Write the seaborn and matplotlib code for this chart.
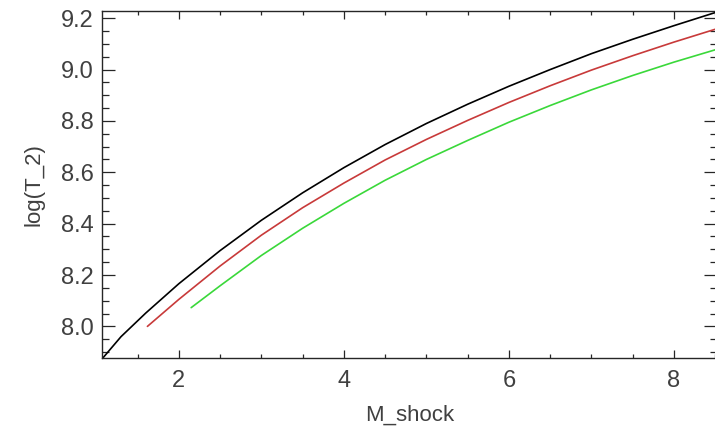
import matplotlib

matplotlib.use("Agg")
import matplotlib.pyplot as plt
import numpy as np
import pandas as pd
import seaborn as sns
from matplotlib.ticker import FormatStrFormatter, MultipleLocator

# values
mach_black = [1.08, 1.3, 1.6, 2.0, 2.5, 3.0, 3.5, 4.0, 4.5, 5.0, 5.5, 6.0, 6.5, 7.0, 7.5, 8.0, 8.5]
logt_black = [7.877, 7.96, 8.052, 8.166, 8.295, 8.413, 8.52, 8.618, 8.708, 8.79,
              8.865, 8.935, 9.0, 9.062, 9.118, 9.171, 9.222]

mach_red = [1.62, 2.0, 2.5, 3.0, 3.5, 4.0, 4.5, 5.0, 5.5, 6.0, 6.5, 7.0, 7.5, 8.0, 8.5]
logt_red = [8.0, 8.105, 8.235, 8.355, 8.462, 8.558, 8.648, 8.728, 8.802, 8.872,
            8.937, 8.998, 9.054, 9.107, 9.157]

mach_green = [2.15, 2.5, 3.0, 3.5, 4.0, 4.5, 5.0, 5.5, 6.0, 6.5, 7.0, 7.5, 8.0, 8.5]
logt_green = [8.073, 8.158, 8.276, 8.382, 8.479, 8.569, 8.65, 8.724, 8.795, 8.86,
              8.921, 8.977, 9.029, 9.077]

series = [
    (mach_black, logt_black, "#000000"),
    (mach_red, logt_red, "#c83a3a"),
    (mach_green, logt_green, "#3ad83a"),
]

sns.set_theme(style="ticks")
plt.rcParams["font.family"] = ["Liberation Sans", "DejaVu Sans"]
text_color = "#404040"
axis_color = "#262626"

fig = plt.figure(figsize=(7.15, 4.28), dpi=100)
ax = fig.add_axes([0.1427, 0.1636, 0.86, 0.8107])

for x, y, color in series:
    df = pd.DataFrame({"M_shock": x, "logT2": y})
    sns.lineplot(data=df, x="M_shock", y="logT2", color=color, linewidth=1.2,
                 sort=False, ax=ax)

ax.set_xlim(1.07, 8.52)
ax.set_ylim(7.877, 9.228)
ax.xaxis.set_major_locator(MultipleLocator(2))
ax.xaxis.set_minor_locator(MultipleLocator(0.5))
ax.yaxis.set_major_locator(MultipleLocator(0.2))
ax.yaxis.set_minor_locator(MultipleLocator(0.05))
ax.yaxis.set_major_formatter(FormatStrFormatter("%.1f"))

ax.tick_params(axis="both", which="both", direction="in", top=True, right=True,
               colors=axis_color, labelcolor=text_color, labelsize=17, width=0.9)
ax.tick_params(axis="x", which="major", length=6, pad=9)
ax.tick_params(axis="x", which="minor", length=3)
ax.tick_params(axis="y", which="major", length=9.5, pad=6)
ax.tick_params(axis="y", which="minor", length=5)

for spine in ax.spines.values():
    spine.set_color(axis_color)
    spine.set_linewidth(1.0)

ax.set_xlabel("M_shock", fontsize=16, color=text_color, labelpad=9)
ax.set_ylabel("log(T_2)", fontsize=16, color=text_color, labelpad=12)

fig.savefig("out.png", dpi=100)
